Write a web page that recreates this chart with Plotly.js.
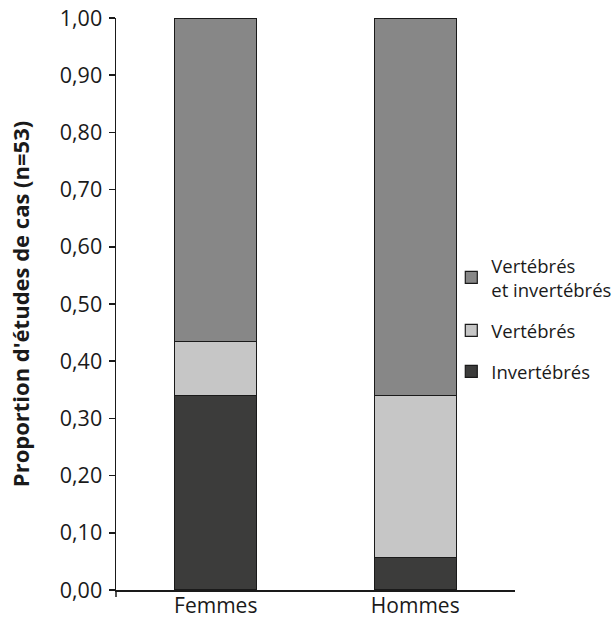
<!DOCTYPE html>
<html>
<head>
<meta charset="utf-8">
<script src="https://cdn.plot.ly/plotly-3.0.1.min.js"></script>
<style>html,body{margin:0;padding:0;background:#fff;}#chart{width:614px;height:618px;}</style>
</head>
<body>
<div id="chart"></div>
<script>
const categories = ["Femmes", "Hommes"];
const invertebres = [18/53, 3/53];
const vertebres = [5/53, 15/53];
const vertEtInvert = [30/53, 35/53];
const seriesNames = ["Invertébrés", "Vertébrés", "Vertébrés<br>et invertébrés"];
const seriesColors = ["#3c3c3b", "#c6c6c6", "#878787"];
const legendRanks = [3, 2, 1];
const yTickVals = [0, 0.1, 0.2, 0.3, 0.4, 0.5, 0.6, 0.7, 0.8, 0.9, 1.0];

const seriesData = [invertebres, vertebres, vertEtInvert];
const traces = seriesData.map((vals, i) => ({
  type: "bar",
  x: categories,
  y: vals,
  name: seriesNames[i],
  legendgroup: "g" + i,
  legendrank: legendRanks[i],
  marker: {color: seriesColors[i], line: {color: "#1a1a1a", width: 1.2}},
  width: 0.41,
  hoverinfo: "none"
}));

const layout = {
  width: 614, height: 618,
  margin: {l: 116, r: 99, t: 18, b: 28, autoexpand: false},
  barmode: "stack",
  showlegend: true,
  separators: ",.",
  font: {family: "Open Sans, sans-serif", color: "#1a1a1a"},
  paper_bgcolor: "#fff", plot_bgcolor: "#fff",
  xaxis: {
    type: "category",
    range: [-0.5, 1.5],
    showline: true, linecolor: "#1a1a1a", linewidth: 1.5,
    ticks: "", showgrid: false, zeroline: false,
    ticklabelstandoff: -4,
    tickfont: {size: 21, color: "#1a1a1a"}
  },
  yaxis: {
    range: [0, 1],
    tickvals: yTickVals,
    tickformat: ".2f",
    showline: true, linecolor: "#1a1a1a", linewidth: 1.5,
    ticks: "outside", ticklen: 6, tickwidth: 1.5, tickcolor: "#1a1a1a",
    showgrid: false, zeroline: false,
    ticklabelstandoff: 2,
    tickfont: {size: 21.5, color: "#1a1a1a"},
    title: {text: "<b>Proportion d'études de cas (n=53)</b>", font: {size: 22, color: "#1a1a1a"}, standoff: 24}
  },
  legend: {
    xref: "container", x: 0.735, y: 0.6, xanchor: "left", yanchor: "top",
    traceorder: "grouped",
    font: {size: 18.5, color: "#1a1a1a"},
    bgcolor: "rgba(0,0,0,0)",
    itemwidth: 30, tracegroupgap: 14
  },
  shapes: [{
    type: "line", xref: "paper", yref: "paper",
    x0: 0, x1: 0, y0: 0, y1: -7/572,
    line: {color: "#1a1a1a", width: 1.5}
  }]
};

Plotly.newPlot("chart", traces, layout, {displayModeBar: false, staticPlot: true});
</script>
</body>
</html>
